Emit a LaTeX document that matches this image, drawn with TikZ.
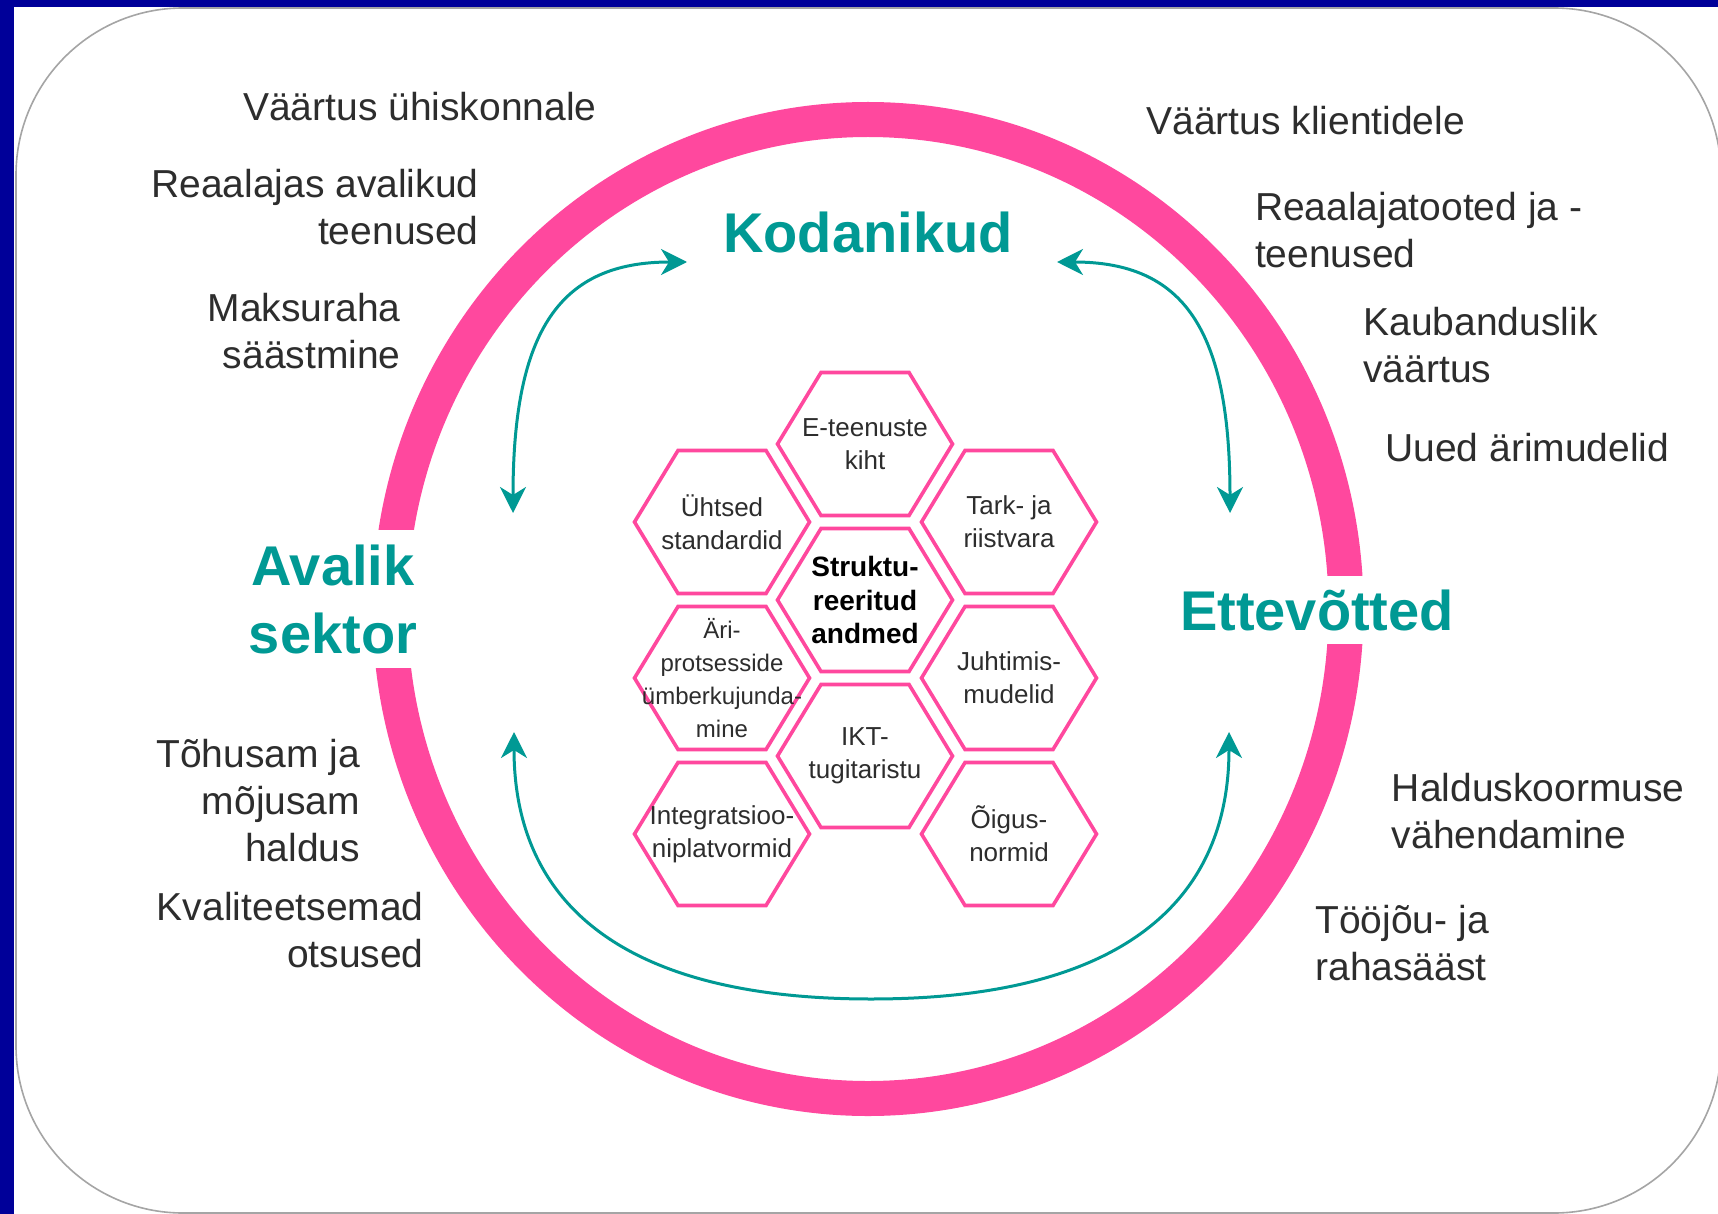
\documentclass[tikz,border=0pt]{standalone}
\usepackage{fontspec}
\setmainfont{Liberation Sans}
\usetikzlibrary{arrows.meta}
\definecolor{navy}{RGB}{0,0,153}
\definecolor{tealc}{RGB}{0,153,148}
\definecolor{hot}{RGB}{255,72,158}
\definecolor{txt}{RGB}{45,45,45}
\definecolor{framec}{RGB}{165,165,165}
\newcommand\hexcell[5]{%
  \draw[hexline, shift={(#2,#3)}] (-87.5,0) -- (-44,-71.5) -- (44,-71.5) -- (87.5,0) -- (44,71.5) -- (-44,71.5) -- cycle;
  \node[hextext, #5] (#1) at (#2,#3) {#4};
}
\begin{document}
\begin{tikzpicture}[x=0.5pt,y=-0.5pt,
  lbl/.style={inner sep=0pt, text=txt, font=\fontsize{19.5}{23.5}\selectfont},
  lblL/.style={lbl, align=right, anchor=east},
  lblR/.style={lbl, align=left, anchor=west},
  actor/.style={text=tealc, font=\fontsize{28}{34}\selectfont\bfseries, align=center},
  hexline/.style={draw=hot, line width=1.8pt, fill=white},
  hextext/.style={text=txt, font=\fontsize{13}{16.5}\selectfont, align=center, inner sep=0pt},
  arr/.style={draw=tealc, line width=1.5pt, >={Stealth[length=13pt,width=13pt,inset=4pt]}, <->},
]
\useasboundingbox (0,0) rectangle (1718,1214);
\clip (0,0) rectangle (1718,1214);
% background
\fill[white] (0,0) rectangle (1718,1214);
\fill[navy] (0,0) rectangle (14,1214);
\fill[navy] (0,0) rectangle (1718,7);
\draw[framec, line width=0.8pt, rounded corners=83.5pt] (16,8) rectangle (1721,1213);
% pink ring
\draw[hot, line width=17.5pt] (868,609) ellipse [x radius=239pt, y radius=244.75pt];
% actors
\node[actor] (kod) at (868,232) {Kodanikud};
\node[actor, fill=white, inner xsep=2pt, inner ysep=7.25pt] (avs) at (333,599) {Avalik\\sektor};
\node[actor, fill=white, inner xsep=2pt, inner ysep=6.75pt] (ett) at (1317,610) {Ettevõtted};
% arrows
\coordinate (a1) at (513,513);
\coordinate (a2) at (687,262);
\coordinate (b1) at (1057,262);
\coordinate (b2) at (1230,513);
\coordinate (c1) at (514,732);
\coordinate (c3) at (871,999);
\coordinate (c2) at (1229,732);
\draw[arr] (a1) .. controls +(0,-183) and +(-127,0) .. (a2);
\draw[arr] (b1) .. controls +(127,0) and +(0,-183) .. (b2);
\draw[arr] (c1) .. controls +(0,170) and +(-250,0) .. (c3) .. controls +(250,0) and +(0,170) .. (c2);
% hexagons
\hexcell{h1}{865}{444}{E-teenuste\\kiht}{}
\hexcell{h2}{722}{522}{Ühtsed\\standardid}{}
\hexcell{h3}{1009}{522}{Tark- ja\\riistvara}{}
\hexcell{h4}{865}{600}{Struktu-\\reeritud\\andmed}{font=\fontsize{14}{16.75}\selectfont\bfseries, text=black}
\hexcell{h5}{722}{678}{Äri-\\protsesside\\ümberkujunda-\\mine}{font=\fontsize{12}{16.5}\selectfont}
\hexcell{h6}{1009}{678}{Juhtimis-\\mudelid}{}
\hexcell{h7}{865}{756}{IKT-\\tugitaristu}{}
\hexcell{h8}{722}{834}{Integratsioo-\\niplatvormid}{}
\hexcell{h9}{1009}{834}{Õigus-\\normid}{}
% left labels
\node[lblL] (l1) at (597,107) {Väärtus ühiskonnale};
\node[lblL] (l2) at (479,207.5) {Reaalajas avalikud\\teenused};
\node[lblL] (l3) at (401,331) {Maksuraha\\säästmine};
\node[lblL] (l4) at (360.5,801) {Tõhusam ja\\mõjusam\\haldus};
\node[lblL] (l5) at (424,930) {Kvaliteetsemad\\otsused};
% right labels
\node[lblR] (r1) at (1146,120.5) {Väärtus klientidele};
\node[lblR] (r2) at (1254.6,230) {Reaalajatooted ja -\\teenused};
\node[lblR] (r3) at (1363,345) {Kaubanduslik\\väärtus};
\node[lblR] (r4) at (1385,448) {Uued ärimudelid};
\node[lblR] (r5) at (1391.5,811) {Halduskoormuse\\vähendamine};
\node[lblR] (r6) at (1315,943) {Tööjõu- ja\\rahasääst};
\end{tikzpicture}
\end{document}
